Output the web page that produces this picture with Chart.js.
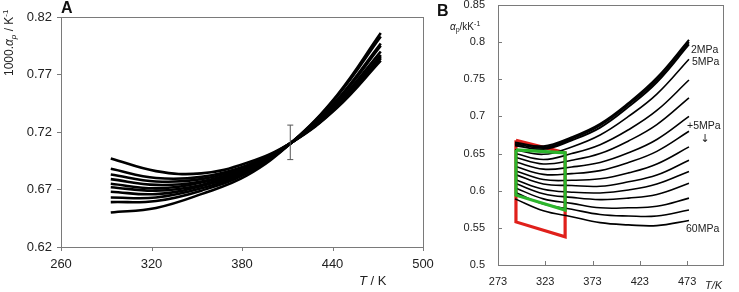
<!DOCTYPE html>
<html>
<head>
<meta charset="utf-8">
<script src="https://cdn.jsdelivr.net/npm/chart.js@4/dist/chart.umd.min.js"></script>
<style>
    body { margin: 0; background: #fff; }
    #wrap { position: relative; width: 739px; height: 292px; overflow: hidden; }
    #chart_a { position: absolute; left: 0; top: 0; }
    #chart_b { position: absolute; left: 430px; top: 0; }
</style>
</head>
<body>
<div id="wrap">
    <canvas id="chart_a" width="440" height="292"></canvas>
    <canvas id="chart_b" width="309" height="292"></canvas>
</div>
<script>
// panel A: 1000.alpha_p vs T, several mixtures
const tempA = [293, 323, 353, 383, 413, 443, 472];
const curvesA = [
    [0.697, 0.686, 0.684, 0.693, 0.711, 0.741, 0.782],
    [0.688, 0.680, 0.681, 0.691, 0.711, 0.742, 0.784],
    [0.683, 0.677, 0.679, 0.690, 0.711, 0.742, 0.785],
    [0.679, 0.674, 0.677, 0.689, 0.711, 0.743, 0.786],
    [0.675, 0.671, 0.676, 0.688, 0.711, 0.743, 0.787],
    [0.672, 0.669, 0.674, 0.687, 0.711, 0.745, 0.790],
    [0.668, 0.666, 0.673, 0.686, 0.711, 0.747, 0.795],
    [0.663, 0.663, 0.671, 0.685, 0.711, 0.748, 0.797],
    [0.659, 0.660, 0.669, 0.684, 0.711, 0.751, 0.803],
    [0.650, 0.654, 0.666, 0.682, 0.711, 0.752, 0.806]
];
const errT = 412;
const errLow = 0.696;
const errHigh = 0.726;
const xTicksA = [260, 320, 380, 440, 500];
const yTicksA = [0.62, 0.67, 0.72, 0.77, 0.82];

// panel B: alpha_p isobars, 0.1 to 60 MPa
const tempB = [291, 321, 351, 381, 411, 441, 475];
const pressuresB = [0.1, 1, 2, 5, 10, 15, 20, 25, 30, 35, 40, 45, 50, 55, 60];
const curvesB = [
    [0.665, 0.660, 0.672, 0.690, 0.718, 0.752, 0.803],
    [0.663, 0.658, 0.670, 0.688, 0.716, 0.749, 0.800],
    [0.661, 0.656, 0.668, 0.685, 0.713, 0.746, 0.797],
    [0.655, 0.649, 0.659, 0.675, 0.700, 0.730, 0.777],
    [0.650, 0.642, 0.650, 0.662, 0.682, 0.708, 0.749],
    [0.645, 0.636, 0.641, 0.650, 0.667, 0.689, 0.725],
    [0.639, 0.629, 0.632, 0.638, 0.651, 0.669, 0.700],
    [0.633, 0.622, 0.623, 0.627, 0.638, 0.653, 0.680],
    [0.627, 0.615, 0.614, 0.616, 0.624, 0.636, 0.659],
    [0.622, 0.609, 0.607, 0.606, 0.612, 0.621, 0.641],
    [0.615, 0.602, 0.598, 0.597, 0.601, 0.609, 0.626],
    [0.610, 0.596, 0.591, 0.588, 0.590, 0.595, 0.610],
    [0.604, 0.589, 0.583, 0.577, 0.577, 0.579, 0.590],
    [0.598, 0.582, 0.575, 0.568, 0.566, 0.566, 0.574],
    [0.589, 0.573, 0.565, 0.557, 0.554, 0.553, 0.560]
];
const redT = [292, 344, 344, 292, 292];
const redV = [0.668, 0.651, 0.538, 0.558, 0.668];
const greenT = [292, 344, 344, 292, 292];
const greenV = [0.655, 0.651, 0.574, 0.594, 0.655];
const xTicksB = [273, 323, 373, 423, 473];
const yTicksB = [0.5, 0.55, 0.6, 0.65, 0.7, 0.75, 0.8, 0.85];

var FONT = "'Liberation Sans', Arial, sans-serif";

function pts(xs, ys) {
    return xs.map(function(x, i) { return {x: x, y: ys[i]}; });
}

function set_ticks(list) {
    return function(scale) {
        scale.ticks = list.map(function(v) { return {value: v}; });
    };
}

// box round the plot plus small tick marks (outward for A, inward for B)
function frame_plugin(dir) {
    return {
        id: "frame",
        afterDatasetsDraw: function(chart) {
            var ctx = chart.ctx, a = chart.chartArea;
            var xs = chart.scales.x, ys = chart.scales.y;
            ctx.save();
            ctx.strokeStyle = "#7a7a7a";
            ctx.lineWidth = 1;
            ctx.strokeRect(Math.round(a.left) + 0.5, Math.round(a.top) + 0.5,
                Math.round(a.right - a.left), Math.round(a.bottom - a.top));
            ctx.beginPath();
            xs.ticks.forEach(function(t) {
                var px = Math.round(xs.getPixelForValue(t.value)) + 0.5;
                ctx.moveTo(px, a.bottom);
                ctx.lineTo(px, a.bottom + 4 * dir);
            });
            ys.ticks.forEach(function(t) {
                var py = Math.round(ys.getPixelForValue(t.value)) + 0.5;
                ctx.moveTo(a.left, py);
                ctx.lineTo(a.left - 4 * dir, py);
            });
            ctx.stroke();
            ctx.restore();
        }
    };
}

var texts_a = {
    id: "texts_a",
    afterDraw: function(chart) {
        var ctx = chart.ctx;
        ctx.save();
        ctx.fillStyle = "#111";
        ctx.font = "bold 16px " + FONT;
        ctx.textBaseline = "alphabetic";
        ctx.fillText("A", 61, 13);
        // x title
        ctx.fillStyle = "#222";
        ctx.font = "italic 13px " + FONT;
        ctx.fillText("T", 359, 285);
        var w = ctx.measureText("T").width;
        ctx.font = "13px " + FONT;
        ctx.fillText(" / K", 359 + w, 285);
        // y title, rotated
        ctx.translate(13, 76);
        ctx.rotate(-Math.PI / 2);
        var x = 0;
        ctx.font = "12px " + FONT;
        ctx.fillText("1000.", x, 0); x += ctx.measureText("1000.").width;
        ctx.font = "italic 12px " + FONT;
        ctx.fillText("\u03b1", x, 0); x += ctx.measureText("\u03b1").width;
        ctx.font = "italic 8px " + FONT;
        ctx.fillText("p", x, 3); x += ctx.measureText("p").width;
        ctx.font = "12px " + FONT;
        ctx.fillText(" / K", x, 0); x += ctx.measureText(" / K").width;
        ctx.font = "8px " + FONT;
        ctx.fillText("-1", x, -5);
        ctx.restore();
    }
};

var texts_b = {
    id: "texts_b",
    afterDraw: function(chart) {
        var ctx = chart.ctx;
        ctx.save();
        ctx.fillStyle = "#111";
        ctx.font = "bold 16px " + FONT;
        ctx.fillText("B", 7, 16);
        ctx.fillStyle = "#222";
        // y title
        var x = 20;
        ctx.font = "italic 10px " + FONT;
        ctx.fillText("\u03b1", x, 30); x += ctx.measureText("\u03b1").width;
        ctx.font = "7px " + FONT;
        ctx.fillText("p", x, 32); x += ctx.measureText("p").width;
        ctx.font = "10px " + FONT;
        ctx.fillText("/kK", x, 30); x += ctx.measureText("/kK").width;
        ctx.font = "7px " + FONT;
        ctx.fillText("-1", x, 26);
        // x title
        ctx.font = "italic 11px " + FONT;
        ctx.fillText("T/K", 275, 289);
        // isobar labels
        ctx.font = "10.5px " + FONT;
        ctx.textBaseline = "middle";
        ctx.fillText("2MPa", 261, 50);
        ctx.fillText("5MPa", 262, 62);
        ctx.fillText("+5MPa", 257, 126);
        ctx.fillText("60MPa", 256, 229);
        ctx.font = "11px 'DejaVu Sans', sans-serif";
        ctx.textAlign = "center";
        ctx.fillText("\u2193", 275, 139);
        ctx.restore();
    }
};

function axis_opts(list, min, max, size, pad, fit, fmt) {
    return {
        type: "linear",
        min: min,
        max: max,
        afterBuildTicks: set_ticks(list),
        afterFit: function(s) {
            fit(s);
            s.paddingTop = 0;
            s.paddingBottom = 0;
            s.paddingLeft = 0;
            s.paddingRight = 0;
        },
        grid: { display: false, drawTicks: false },
        border: { display: false },
        ticks: {
            color: "#222",
            padding: pad,
            maxRotation: 0,
            autoSkip: false,
            font: { family: FONT, size: size },
            callback: fmt
        }
    };
}

var datasets_a = curvesA.map(function(c, i) {
    return {
        label: "mixture " + (i + 1),
        data: pts(tempA, c),
        showLine: true,
        borderColor: "#000",
        borderWidth: 2.6,
        pointRadius: 0,
        tension: 0.4,
        order: 2
    };
});
datasets_a.push({
    label: "error",
    data: [{x: errT, y: errLow}, {x: errT, y: errHigh}],
    showLine: true,
    borderColor: "#555",
    borderWidth: 1,
    pointStyle: "line",
    pointRadius: 3,
    pointBorderColor: "#555",
    pointBorderWidth: 1,
    order: 1
});

new Chart(document.getElementById("chart_a").getContext("2d"), {
    type: "scatter",
    data: { datasets: datasets_a },
    options: {
        responsive: false,
        animation: false,
        layout: { padding: { left: 0, right: 17, top: 17, bottom: 0 } },
        plugins: { legend: { display: false }, tooltip: { enabled: false } },
        scales: {
            x: axis_opts(xTicksA, 260, 500, 13, 10, function(s) { s.height = 45; },
                function(v) { return v; }),
            y: axis_opts(yTicksA, 0.62, 0.82, 13, 9, function(s) { s.width = 61; },
                function(v) { return v.toFixed(2); })
        }
    },
    plugins: [frame_plugin(1), texts_a]
});

var datasets_b = [];
curvesB.forEach(function(c, i) {
    datasets_b.push({
        label: pressuresB[i] + "MPa",
        data: pts(tempB, c),
        showLine: true,
        borderColor: "#000",
        borderWidth: i < 3 ? 2 : 1.6,
        pointRadius: 0,
        tension: 0.4,
        order: 2
    });
});
datasets_b.push({
    label: "red",
    data: pts(redT, redV),
    showLine: true,
    borderColor: "#e0201b",
    borderWidth: 3.2,
    pointRadius: 0,
    tension: 0,
    order: 3
});
datasets_b.push({
    label: "green",
    data: pts(greenT, greenV),
    showLine: true,
    borderColor: "#2cb52c",
    borderWidth: 3.2,
    pointRadius: 0,
    tension: 0,
    order: 1
});

new Chart(document.getElementById("chart_b").getContext("2d"), {
    type: "scatter",
    data: { datasets: datasets_b },
    options: {
        responsive: false,
        animation: false,
        layout: { padding: { left: 0, right: 16, top: 5, bottom: 0 } },
        plugins: { legend: { display: false }, tooltip: { enabled: false } },
        scales: {
            x: axis_opts(xTicksB, 273, 511, 11, 10, function(s) { s.height = 27; },
                function(v) { return v; }),
            y: axis_opts(yTicksB, 0.5, 0.85, 11, 13, function(s) { s.width = 68; },
                function(v) { return String(+v.toFixed(2)); })
        }
    },
    plugins: [frame_plugin(-1), texts_b]
});
</script>
</body>
</html>
